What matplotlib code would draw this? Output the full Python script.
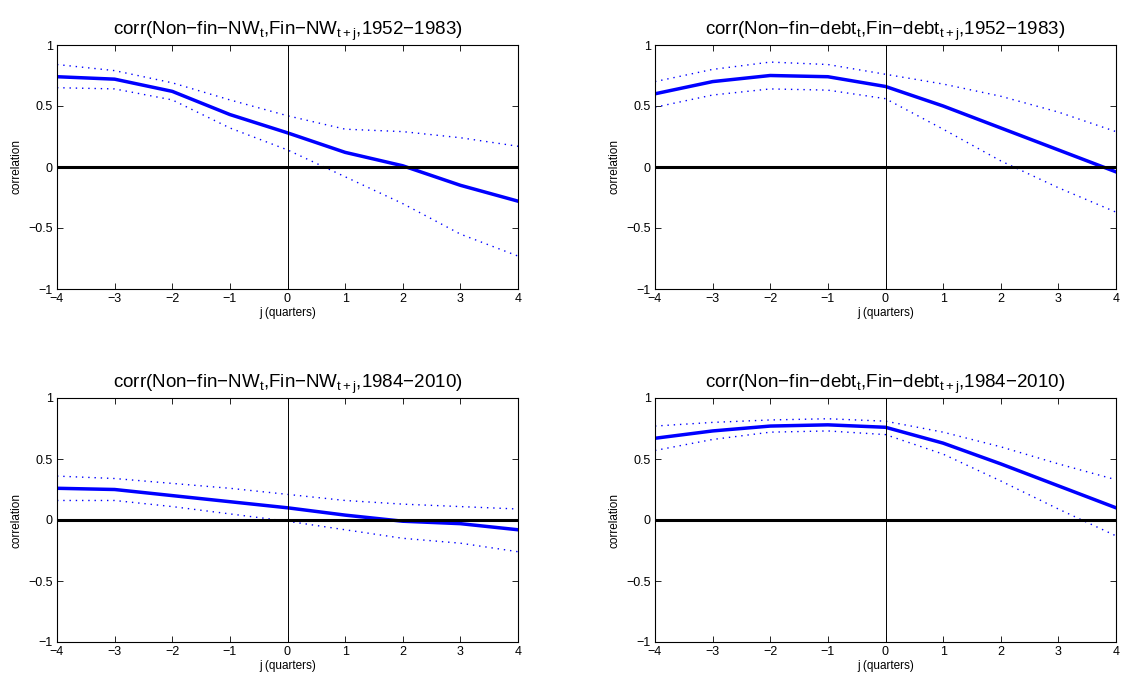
import matplotlib
matplotlib.use('Agg')
import matplotlib.pyplot as plt

plt.rcParams['font.family'] = ['Liberation Sans', 'DejaVu Sans']
plt.rcParams['mathtext.fontset'] = 'custom'
plt.rcParams['mathtext.rm'] = 'Liberation Sans'
plt.rcParams['mathtext.it'] = 'Liberation Sans'
plt.rcParams['mathtext.default'] = 'regular'

lags = [-4, -3, -2, -1, 0, 1, 2, 3, 4]

# top left: net worth 1952-1983
nw_early = [0.74, 0.72, 0.62, 0.43, 0.28, 0.12, 0.01, -0.15, -0.28]
nw_early_hi = [0.84, 0.79, 0.69, 0.55, 0.42, 0.31, 0.29, 0.24, 0.17]
nw_early_lo = [0.65, 0.64, 0.55, 0.32, 0.14, -0.08, -0.30, -0.55, -0.73]

# top right: debt 1952-1983
debt_early = [0.60, 0.70, 0.75, 0.74, 0.66, 0.50, 0.32, 0.14, -0.04]
debt_early_hi = [0.70, 0.80, 0.86, 0.84, 0.76, 0.68, 0.58, 0.45, 0.29]
debt_early_lo = [0.49, 0.59, 0.64, 0.63, 0.56, 0.31, 0.05, -0.17, -0.37]

# bottom left: net worth 1984-2010
nw_late = [0.26, 0.25, 0.20, 0.15, 0.10, 0.04, -0.01, -0.03, -0.08]
nw_late_hi = [0.36, 0.34, 0.30, 0.26, 0.21, 0.16, 0.13, 0.11, 0.09]
nw_late_lo = [0.16, 0.16, 0.11, 0.05, -0.01, -0.08, -0.15, -0.19, -0.26]

# bottom right: debt 1984-2010
debt_late = [0.67, 0.73, 0.77, 0.78, 0.76, 0.63, 0.46, 0.28, 0.10]
debt_late_hi = [0.77, 0.80, 0.82, 0.83, 0.81, 0.72, 0.60, 0.46, 0.33]
debt_late_lo = [0.57, 0.66, 0.72, 0.73, 0.70, 0.54, 0.32, 0.09, -0.13]

titles = [
    'corr(Non\u2212fin\u2212NW$_{t}$,Fin\u2212NW$_{t+j}$,1952\u22121983)',
    'corr(Non\u2212fin\u2212debt$_{t}$,Fin\u2212debt$_{t+j}$,1952\u22121983)',
    'corr(Non\u2212fin\u2212NW$_{t}$,Fin\u2212NW$_{t+j}$,1984\u22122010)',
    'corr(Non\u2212fin\u2212debt$_{t}$,Fin\u2212debt$_{t+j}$,1984\u22122010)',
]
series = [
    (nw_early, nw_early_hi, nw_early_lo),
    (debt_early, debt_early_hi, debt_early_lo),
    (nw_late, nw_late_hi, nw_late_lo),
    (debt_late, debt_late_hi, debt_late_lo),
]

fig = plt.figure(figsize=(11.28, 6.83), dpi=100)
W, H = 1128, 683
boxes = [(57, 45), (655, 45), (57, 398), (655, 398)]

for (x0, y0), title, (mid, hi, lo) in zip(boxes, titles, series):
    ax = fig.add_axes([x0 / W, 1 - (y0 + 244) / H, 461 / W, 244 / H])
    ax.plot(lags, hi, color='blue', lw=1.0, linestyle=(0, (1, 3.5)))
    ax.plot(lags, lo, color='blue', lw=1.0, linestyle=(0, (1, 3.5)))
    ax.plot(lags, mid, '-', color='blue', lw=2.5)
    ax.axhline(0, color='black', lw=2.2)
    ax.axvline(0, color='black', lw=0.7)
    ax.set_xlim(-4, 4)
    ax.set_ylim(-1, 1)
    ax.set_xticks(lags)
    ax.set_xticklabels([str(v).replace('-', '\u2212') for v in lags])
    ax.set_yticks([-1, -0.5, 0, 0.5, 1])
    ax.set_yticklabels(['\u22121', '\u22120.5', '0', '0.5', '1'])
    ax.tick_params(direction='in', top=True, right=True, labelsize=9,
                   length=4, width=0.6, pad=3)
    for s in ax.spines.values():
        s.set_linewidth(0.8)
    ax.set_xlabel('j (quarters)', fontsize=8.5, labelpad=1)
    ax.set_ylabel('correlation', fontsize=8.5, labelpad=4)
    ax.set_title(title, fontsize=13.5, pad=7)

fig.savefig('out.png', dpi=100)
